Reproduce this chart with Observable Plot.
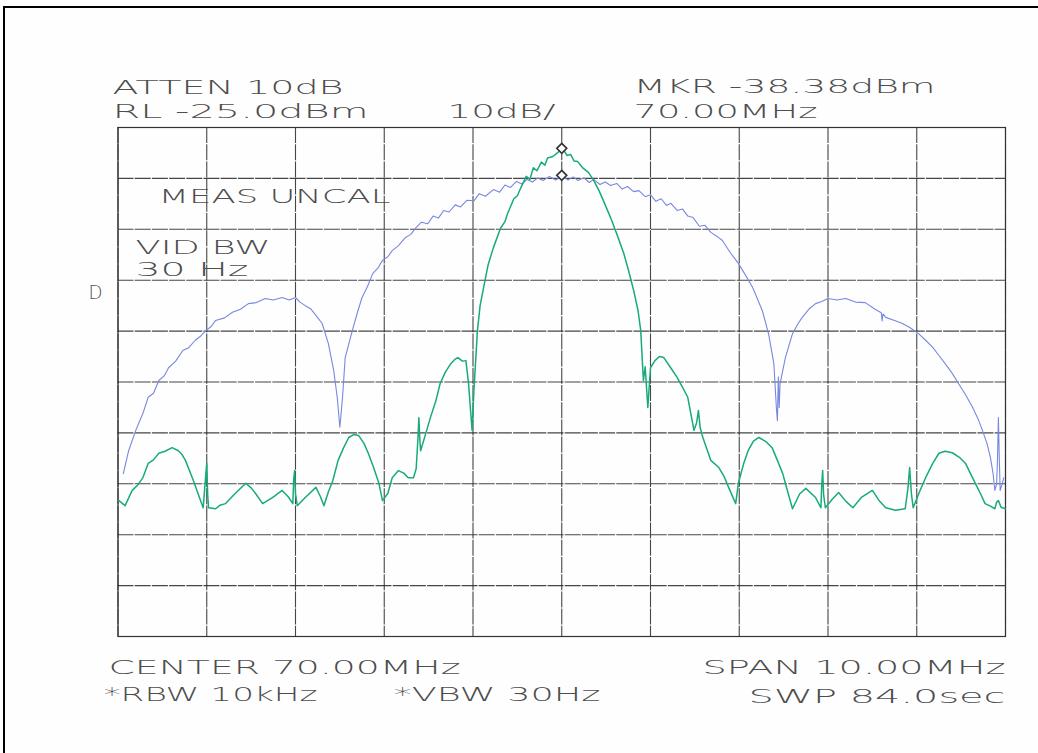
<!DOCTYPE html>
<html>
<head>
<meta charset="utf-8">
<script src="https://cdn.jsdelivr.net/npm/d3@7"></script>
<script src="https://cdn.jsdelivr.net/npm/@observablehq/plot@0.6"></script>
<style>
  html, body { margin: 0; padding: 0; background: #fefefe; overflow: hidden; }
  #wrap { position: relative; width: 1038px; height: 753px; overflow: hidden; }
  #page-border { position: absolute; left: 3px; top: 6px; width: 1100px; height: 800px;
    border-top: 2px solid #000; border-left: 2px solid #000; pointer-events: none; }
  svg { display: block; }
</style>
</head>
<body>
<div id="wrap"><div id="page-border"></div></div>
<script>
// ---- Data (frequency in MHz, level in dBm) ----
const xTicks = [65, 66, 67, 68, 69, 70, 71, 72, 73, 74, 75];
const yTicks = [-25, -35, -45, -55, -65, -75, -85, -95, -105, -115, -125];

const blueTrace = [
  [65.06,-93.0],[65.12,-88.5],[65.20,-84.5],[65.28,-81.2],[65.34,-78.0],[65.40,-77.2],[65.46,-74.7],
  [65.52,-73.8],[65.57,-72.2],[65.65,-70.9],[65.73,-68.8],[65.80,-68.2],[65.87,-66.8],[65.93,-66.0],
  [65.99,-64.9],[66.05,-64.1],[66.10,-62.9],[66.20,-62.4],[66.29,-61.3],[66.38,-60.7],[66.47,-59.6],
  [66.56,-59.4],[66.66,-58.6],[66.75,-58.9],[66.85,-58.4],[66.93,-58.9],[67.00,-58.4],[67.05,-59.3],
  [67.11,-60.0],[67.17,-60.6],[67.23,-61.9],[67.30,-63.5],[67.37,-67.4],[67.43,-72.7],[67.47,-78.0],
  [67.50,-83.9],[67.53,-78.0],[67.56,-70.2],[67.64,-64.9],[67.70,-61.2],[67.75,-58.4],[67.81,-56.3],
  [67.87,-53.7],[67.93,-52.6],[67.98,-51.1],[68.04,-50.4],[68.09,-49.2],[68.16,-48.2],[68.24,-46.6],
  [68.30,-46.0],[68.35,-44.8],[68.42,-43.6],[68.49,-43.9],[68.55,-42.4],[68.61,-42.8],[68.67,-41.3],
  [68.73,-41.6],[68.80,-40.2],[68.86,-40.6],[68.93,-39.3],[69.01,-39.4],[69.07,-38.0],[69.14,-38.5],
  [69.23,-37.2],[69.30,-37.7],[69.36,-36.3],[69.42,-36.8],[69.49,-35.6],[69.55,-36.1],[69.61,-35.2],
  [69.67,-35.7],[69.73,-34.9],[69.79,-35.4],[69.86,-34.6],[69.93,-35.3],[70.01,-34.6],[70.07,-35.3],
  [70.13,-34.7],[70.18,-35.4],[70.25,-34.9],[70.31,-35.8],[70.36,-35.2],[70.43,-36.2],[70.49,-35.7],
  [70.55,-36.4],[70.62,-36.0],[70.68,-37.1],[70.74,-36.6],[70.81,-37.6],[70.87,-37.4],[70.94,-38.6],
  [71.00,-38.2],[71.06,-39.5],[71.12,-39.0],[71.18,-40.3],[71.23,-39.9],[71.30,-41.3],[71.36,-41.0],
  [71.42,-42.4],[71.48,-42.7],[71.55,-44.4],[71.61,-44.2],[71.68,-45.6],[71.75,-46.4],[71.81,-47.2],
  [71.90,-49.6],[71.99,-51.7],[72.07,-54.0],[72.15,-56.4],[72.21,-58.9],[72.26,-61.0],[72.33,-65.5],
  [72.39,-71.4],[72.42,-80.5],[72.43,-82.6],[72.44,-74.0],[72.45,-80.0],[72.46,-75.3],[72.52,-70.2],
  [72.60,-65.5],[72.66,-63.6],[72.71,-62.3],[72.79,-60.6],[72.86,-59.6],[72.93,-59.2],[73.00,-58.6],
  [73.10,-58.9],[73.20,-58.6],[73.31,-59.3],[73.42,-59.4],[73.53,-60.7],[73.60,-61.4],[73.61,-63.0],
  [73.62,-61.6],[73.65,-62.3],[73.75,-62.9],[73.84,-63.5],[73.93,-64.4],[74.02,-65.5],[74.10,-66.8],
  [74.18,-68.2],[74.25,-69.8],[74.32,-71.4],[74.40,-73.3],[74.47,-75.3],[74.55,-77.5],[74.63,-80.0],
  [74.69,-82.2],[74.74,-84.5],[74.79,-87.0],[74.83,-89.8],[74.86,-93.0],[74.88,-96.3],[74.90,-95.0],
  [74.91,-90.0],[74.92,-82.0],[74.93,-90.0],[74.94,-96.3],[74.96,-95.2],[74.98,-93.8]
];

const greenTrace = [
  [65.01,-98.3],[65.08,-99.3],[65.16,-96.3],[65.22,-95.3],[65.28,-93.8],[65.34,-91.0],[65.40,-90.3],
  [65.46,-89.0],[65.53,-88.6],[65.61,-87.9],[65.68,-88.5],[65.72,-89.2],[65.76,-90.4],[65.85,-94.4],
  [65.93,-98.3],[65.96,-99.7],[65.99,-93.0],[66.00,-91.0],[66.01,-97.0],[66.02,-99.7],[66.10,-99.9],
  [66.15,-99.2],[66.21,-98.9],[66.32,-96.9],[66.44,-94.9],[66.50,-95.8],[66.55,-96.9],[66.63,-98.9],
  [66.74,-97.7],[66.85,-96.3],[66.92,-97.6],[66.97,-98.9],[66.98,-94.0],[66.99,-92.4],[67.00,-97.0],
  [67.02,-99.3],[67.11,-97.7],[67.23,-95.7],[67.28,-97.5],[67.32,-99.3],[67.37,-96.6],[67.42,-94.4],
  [67.48,-90.4],[67.54,-88.0],[67.60,-85.9],[67.66,-85.3],[67.71,-85.5],[67.77,-87.0],[67.82,-89.0],
  [67.88,-91.8],[67.94,-94.9],[67.98,-98.3],[68.04,-96.9],[68.09,-93.8],[68.16,-92.4],[68.22,-92.9],
  [68.27,-93.8],[68.33,-93.8],[68.36,-92.0],[68.38,-86.0],[68.39,-82.0],[68.40,-86.0],[68.41,-88.5],
  [68.47,-85.0],[68.52,-82.0],[68.58,-78.8],[68.63,-75.3],[68.69,-73.0],[68.75,-71.4],[68.80,-70.5],
  [68.83,-70.2],[68.88,-70.9],[68.92,-70.8],[68.95,-75.3],[68.97,-80.0],[68.99,-84.5],[69.01,-76.7],
  [69.05,-64.9],[69.08,-60.0],[69.12,-56.4],[69.17,-52.0],[69.23,-48.6],[69.31,-44.8],[69.36,-43.5],
  [69.39,-41.9],[69.46,-39.0],[69.50,-38.4],[69.54,-36.8],[69.60,-34.6],[69.64,-35.2],[69.68,-32.9],
  [69.72,-33.5],[69.77,-31.8],[69.81,-32.4],[69.84,-31.0],[69.90,-30.7],[69.95,-30.0],[70.01,-29.1],
  [70.06,-30.5],[70.10,-30.3],[70.14,-31.6],[70.18,-31.7],[70.24,-33.0],[70.30,-33.8],[70.36,-35.4],
  [70.42,-37.4],[70.48,-39.8],[70.55,-42.7],[70.62,-45.9],[70.70,-49.8],[70.76,-53.6],[70.81,-57.0],
  [70.86,-61.0],[70.89,-64.9],[70.92,-74.7],[70.94,-72.0],[70.97,-80.0],[71.00,-72.2],[71.05,-70.8],
  [71.10,-70.0],[71.15,-70.2],[71.22,-72.0],[71.30,-74.1],[71.36,-76.0],[71.42,-78.0],[71.49,-84.5],
  [71.52,-83.0],[71.54,-80.6],[71.56,-84.0],[71.59,-85.9],[71.68,-90.4],[71.77,-91.8],[71.83,-93.6],
  [71.88,-95.7],[71.96,-98.9],[71.99,-94.9],[72.05,-91.0],[72.10,-88.5],[72.16,-86.6],[72.22,-85.9],
  [72.30,-86.7],[72.37,-87.9],[72.43,-90.4],[72.49,-93.0],[72.55,-96.8],[72.60,-99.9],[72.68,-97.0],
  [72.75,-95.9],[72.86,-97.7],[72.92,-99.7],[72.93,-95.0],[72.94,-92.4],[72.95,-97.0],[72.97,-99.7],
  [73.05,-98.0],[73.12,-96.7],[73.20,-98.4],[73.28,-99.7],[73.38,-97.6],[73.50,-96.3],[73.58,-98.4],
  [73.65,-99.7],[73.76,-100.2],[73.87,-99.9],[73.90,-96.0],[73.92,-91.8],[73.94,-97.0],[73.96,-99.7],
  [74.03,-96.6],[74.10,-93.8],[74.18,-91.0],[74.25,-89.0],[74.32,-88.6],[74.40,-88.9],[74.48,-89.8],
  [74.55,-91.0],[74.60,-92.8],[74.66,-94.9],[74.72,-97.0],[74.77,-98.9],[74.83,-99.4],[74.88,-99.9],
  [74.90,-98.6],[74.92,-98.3],[74.95,-99.6],[75.00,-99.9]
];

const markers = [[70.0, -29.1], [70.0, -34.4]];

const labels = [
  "ATTEN 10dB", "RL -25.0dBm", "10dB/", "MKR -38.38dBm", "70.00MHz",
  "MEAS UNCAL", "VID BW", "30 Hz", "D",
  "CENTER 70.00MHz", "*RBW 10kHz", "*VBW 30Hz", "SPAN 10.00MHz", "SWP 84.0sec"
];

// ---- Layout (pixel placement of the annotation texts: left, baseline, width) ----
const ML = 117.5, MT = 127;
const placement = [
  [112, 93, 231], [112, 117, 256], [447, 117, 108], [633, 92, 302], [633, 117, 184],
  [158, 202, 232], [135, 253, 135], [135, 275, 113], [88, 298, 14],
  [108, 673, 352], [103, 700, 214], [393, 700, 207], [702, 673, 303], [748, 702, 257]
];

const blue = "#7888de", green = "#18aa7c";
const gridStyle = {stroke: "#262626", strokeOpacity: 0.85, strokeWidth: 1.1, strokeDasharray: "16,1.2"};

const textMarks = labels.map((t, i) => Plot.text([t], {
  text: d => d,
  frameAnchor: "top-left",
  dx: placement[i][0] - ML,
  dy: placement[i][1] - MT,
  textAnchor: "start",
  lineAnchor: "bottom",
  fill: "#4d4d4d",
  fontSize: 19,
  fontWeight: 200,
  fontFamily: "DejaVu Sans"
}));

const chart = Plot.plot({
  width: 1038,
  height: 753,
  marginLeft: ML,
  marginRight: 33,
  marginTop: MT,
  marginBottom: 117,
  x: {domain: [65, 75], axis: null},
  y: {domain: [-125, -25], axis: null},
  style: {background: "transparent", overflow: "visible"},
  marks: [
    Plot.gridX(xTicks, gridStyle),
    Plot.gridY(yTicks, gridStyle),
    Plot.frame({stroke: "#333", strokeWidth: 1.2}),
    Plot.line(blueTrace, {x: d => d[0], y: d => d[1], stroke: blue, strokeWidth: 1.1, strokeLinejoin: "round"}),
    Plot.line(greenTrace, {x: d => d[0], y: d => d[1], stroke: green, strokeWidth: 1.5, strokeLinejoin: "round"}),
    Plot.dot(markers, {x: d => d[0], y: d => d[1], symbol: "diamond2", r: 4.5, stroke: "#333", strokeWidth: 1.6, fill: "white"}),
    ...textMarks
  ]
});

// stretch each annotation to the wide plotter lettering (texts are in mark order)
const texts = chart.querySelectorAll("text");
texts.forEach((el, i) => {
  if (i >= placement.length) return;
  el.setAttribute("textLength", placement[i][2]);
  el.setAttribute("lengthAdjust", "spacingAndGlyphs");
});

document.getElementById("wrap").prepend(chart);
</script>
</body>
</html>
